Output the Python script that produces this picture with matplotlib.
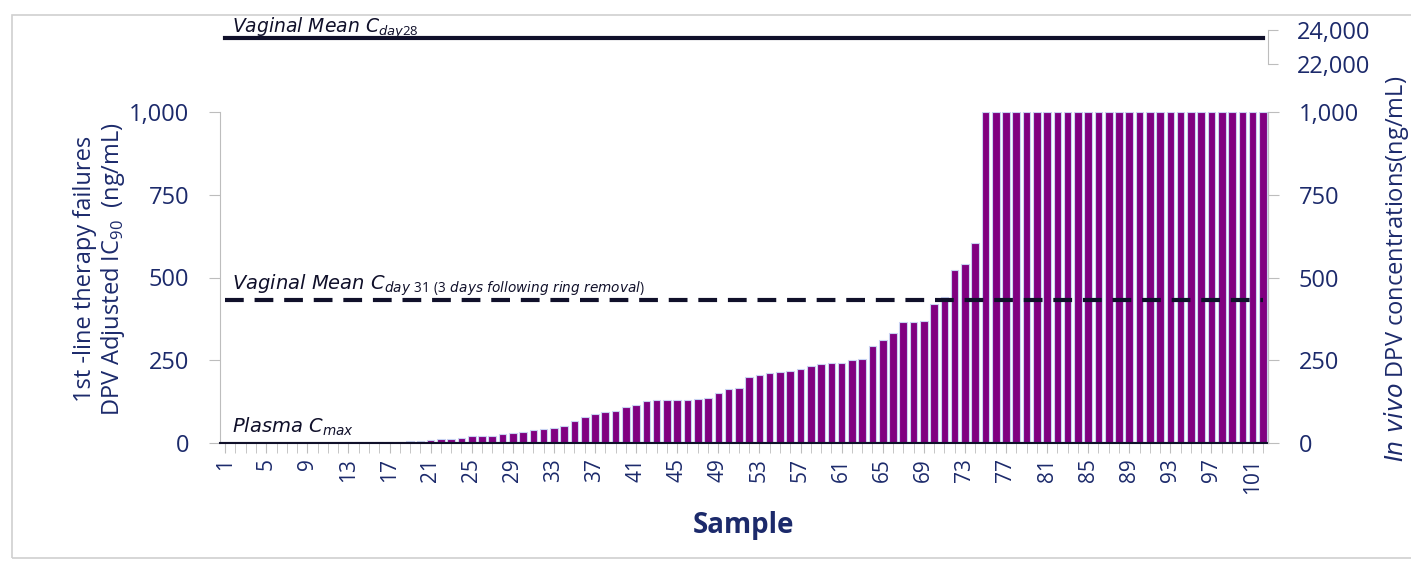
import matplotlib
matplotlib.use('Agg')
import matplotlib.pyplot as plt
from matplotlib.patches import Rectangle

plt.rcParams['font.family'] = ['Open Sans', 'DejaVu Sans']
plt.rcParams['mathtext.fontset'] = 'custom'
plt.rcParams['mathtext.rm'] = 'Open Sans'
plt.rcParams['mathtext.it'] = 'DejaVu Sans:italic'

NAVY = '#1c2a6b'
INK = '#10102a'
PURPLE = '#800080'
GRID = '#bdbdbd'

# data
samples = list(range(1, 103))
ic90 = ([0.5] * 12 + [3] * 6 +
        [6, 7, 10, 11, 13, 15, 20, 21, 22, 28,
         31, 32, 38, 42, 46, 51, 66, 80, 88, 95,
         97, 108, 115, 126, 130, 131, 131, 131, 132, 137,
         151, 164, 167, 199, 205, 210, 213, 219, 223, 233,
         238, 243, 243, 250, 254, 293, 311, 332, 365, 366,
         370, 419, 441, 522, 540, 604] +
        [1000] * 28)
xtick_labels = list(range(1, 102, 4))
ytick_values = [0, 250, 500, 750, 1000]
top_ticks = [22000, 24000]

plasma_cmax = 1
vaginal_day31 = 432
vaginal_day28 = 23550

fig = plt.figure(figsize=(14.11, 5.61), dpi=100)
fig.patches.append(Rectangle((12 / 1411, 0.005), 1.2, 1 - 15 / 561 - 0.005,
                             transform=fig.transFigure, fill=False,
                             edgecolor='#d0d0d0', lw=1.2))

left, right = 220 / 1411, 1268 / 1411
bot, top = 1 - 443 / 561, 1 - 112 / 561
ax = fig.add_axes([left, bot, right - left, top - bot])

ax.bar(samples, ic90, width=0.74, color=PURPLE, edgecolor='#c9d3f2', linewidth=0.8, zorder=2)
ax.set_xlim(0.5, 102.5)
ax.set_ylim(0, 1000)

ax.axhline(plasma_cmax, color=INK, lw=2.2, zorder=3)
ax.axhline(vaginal_day31, color=INK, lw=3, ls=(0, (4.5, 2.6)), zorder=3, xmin=0.005, xmax=0.995)

ann = dict(color=INK, style='italic', family='DejaVu Sans', fontsize=14, va='bottom')
ax.text(1.7, plasma_cmax + 14, r'Plasma C$_{\mathit{max}}$', **ann)
ax.text(1.7, vaginal_day31 + 6,
        r'Vaginal Mean C$_{\mathit{day\ 31\ (3\ days\ following\ ring\ removal)}}$', **ann)

ax.set_xticks(xtick_labels)
ax.set_xticklabels([str(v) for v in xtick_labels], rotation=90, fontsize=15, color=NAVY)
ax.set_xticks(samples, minor=True)
ax.tick_params(axis='x', which='both', direction='out', length=7, color=GRID, pad=4)
ax.set_yticks(ytick_values)
ax.set_yticklabels([f'{v:,}' for v in ytick_values], fontsize=17, color=NAVY)
ax.tick_params(axis='y', direction='out', length=8, color=GRID, pad=14)

ax.spines['top'].set_visible(False)
ax.spines['left'].set_color(GRID)
ax.spines['right'].set_color(GRID)
ax.spines['bottom'].set_color(INK)
ax.spines['bottom'].set_linewidth(1.5)

ax.set_xlabel('Sample', fontsize=20, weight='bold', color=NAVY, labelpad=12)

ax2 = ax.twinx()
ax2.set_ylim(0, 1000)
ax2.set_yticks(ytick_values)
ax2.set_yticklabels([f'{v:,}' for v in ytick_values], fontsize=17, color=NAVY)
ax2.tick_params(axis='y', direction='out', length=8, color=GRID, pad=14)
for s in ['top', 'left', 'bottom']:
    ax2.spines[s].set_visible(False)
ax2.spines['right'].set_color(GRID)

# broken top segment
tb, tt = 1 - 64 / 561, 1 - 30 / 561
axt = fig.add_axes([left, tb, right - left, tt - tb])
axt.set_xlim(0.5, 102.5)
axt.set_ylim(top_ticks[0], top_ticks[1])
axt.axhline(vaginal_day28, color=INK, lw=3, xmin=0.005, xmax=0.995)
axt.text(1.7, vaginal_day28 + 290, r'Vaginal Mean C$_{\mathit{day28}}$',
         **dict(ann, fontsize=13.5, va='baseline'))
axt.set_xticks([])
axt.yaxis.tick_right()
axt.set_yticks(top_ticks)
axt.set_yticklabels([f'{v:,}' for v in top_ticks], fontsize=17, color=NAVY)
axt.tick_params(axis='y', direction='out', length=7, color=GRID, pad=14)
for s in ['top', 'left', 'bottom']:
    axt.spines[s].set_visible(False)
axt.spines['right'].set_color(GRID)
axt.patch.set_alpha(0)

fig.text(0.071, 0.52, '1st -line therapy failures\nDPV Adjusted IC$_{90}$  (ng/mL)',
         rotation=90, ha='center', va='center', fontsize=17, color=NAVY, linespacing=1.1)
fig.text(0.99, 0.52, r'$\mathit{In\ vivo}$ DPV concentrations(ng/mL)',
         rotation=90, ha='center', va='center', fontsize=17, color=NAVY)

fig.savefig('out.png', dpi=100)
